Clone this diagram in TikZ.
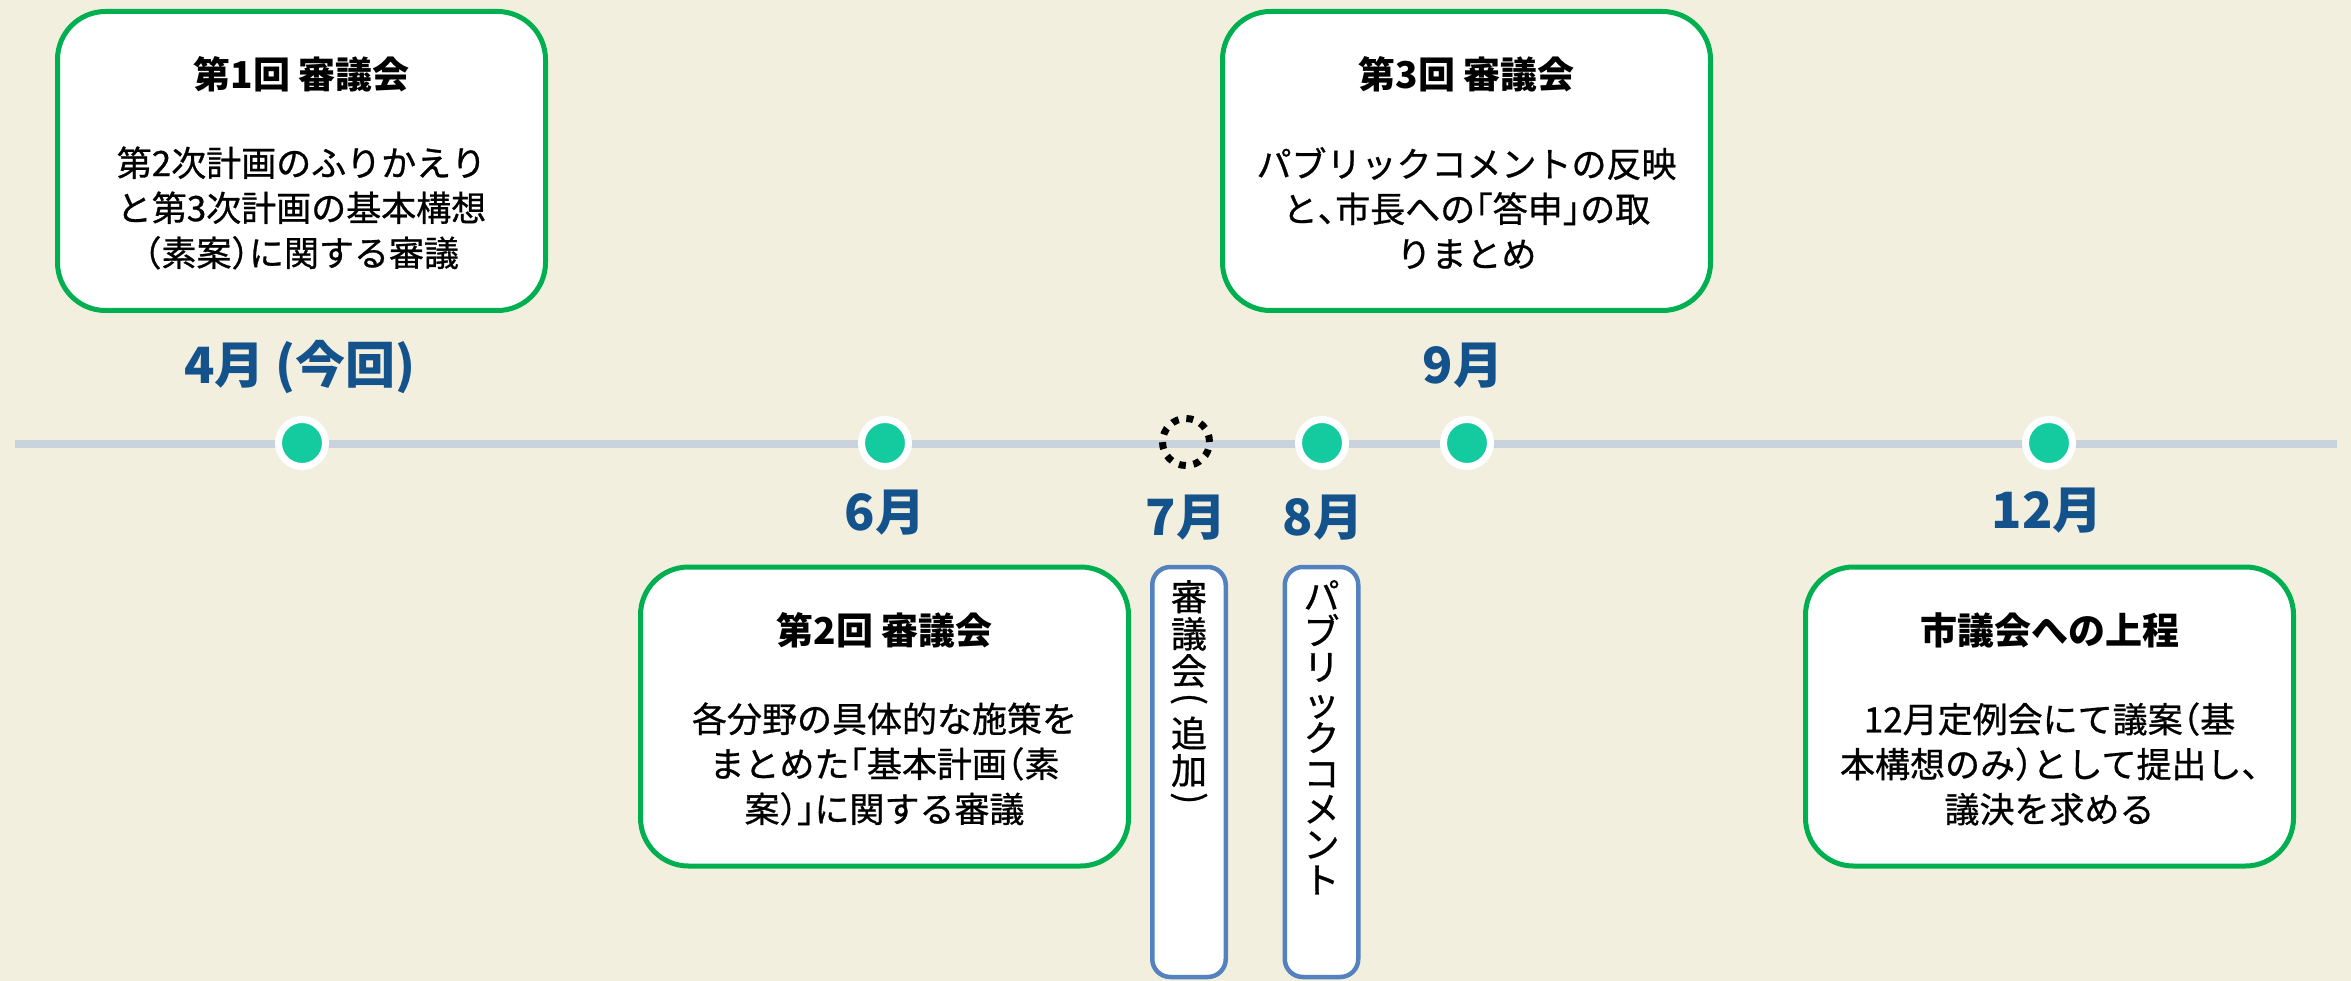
\documentclass[tikz,border=0pt]{standalone}
\usepackage{fontspec}
\usepackage{graphicx}
\setmainfont{Noto Sans CJK JP}
\newfontfamily\bodyfont[FakeBold=0.8]{Noto Sans CJK JP}
\newfontfamily\vfont[FakeBold=0.8]{Noto Sans CJK JP}
\newcommand\hw[1]{{\addfontfeatures{RawFeature=+halt}#1}}
\newcommand\vparen[1]{\rotatebox{-90}{#1}}
\definecolor{bgcol}{RGB}{242,239,223}
\definecolor{boxgreen}{RGB}{0,176,80}
\definecolor{dotgreen}{RGB}{20,203,160}
\definecolor{linecol}{RGB}{201,211,222}
\definecolor{monthblue}{RGB}{20,82,140}
\definecolor{vblue}{RGB}{84,130,190}
\begin{document}
\begin{tikzpicture}[x=1pt,y=-1pt,
  box/.style={draw=boxgreen, line width=5pt, fill=white, rounded corners=48pt,
    minimum width=488pt, minimum height=299pt, inner sep=0pt},
  boxtitle/.style={inner sep=0pt, font=\fontsize{37}{44}\selectfont\bfseries},
  boxbody/.style={inner sep=0pt, align=center, font=\bodyfont\fontsize{35}{45}\selectfont},
  month/.style={inner sep=0pt, text=monthblue, font=\fontsize{50}{60}\selectfont\bfseries},
  dot/.style={circle, draw=white, fill=dotgreen, line width=7pt, minimum size=47pt, inner sep=0pt},
  dashdot/.style={circle, draw=black, line width=7pt, dash pattern=on 7pt off 7.77pt, minimum size=47pt, inner sep=0pt},
  timeline/.style={draw=linecol, line width=8pt},
  vbox/.style={draw=vblue, fill=white, line width=4.5pt, rounded corners=18pt,
    minimum width=73.5pt, minimum height=410pt, inner sep=0pt},
  vtext/.style={inner sep=0pt, align=center, font=\vfont\fontsize{36}{35.5}\selectfont},
  vtextb/.style={inner sep=0pt, align=center, font=\vfont\fontsize{36}{37}\selectfont}
]
\fill[bgcol] (0,0) rectangle (2351,981);
\useasboundingbox (0,0) rectangle (2351,981);

% timeline
\coordinate (tl0) at (15,444);
\coordinate (tl1) at (2337,444);
\draw[timeline] (tl0) -- (tl1);

% dots
\node[dot] (d4) at (302,443) {};
\node[dot] (d6) at (885,443) {};
\node[dashdot] (d7) at (1186,442) {};
\node[dot] (d8) at (1322,443) {};
\node[dot] (d9) at (1467,443) {};
\node[dot] (d12) at (2049,443) {};

% month labels
\node[month] (m4) at (300,367) {4月 (今回)};
\node[month] (m9) at (1463,366) {9月};
\node[month] (m6) at (885,513) {6月};
\node[month] (m7) at (1186,518) {7月};
\node[month] (m8) at (1323,518) {8月};
\node[month] (m12) at (2047,511) {12月};

% boxes
\node[box] (b1) at (301.5,161) {};
\node[boxtitle] (t1) at (301.5,74) {第1回 審議会};
\node[boxbody] (x1) at (301.5,208) {第2次計画のふりかえり\\と第3次計画の基本構想\\\hw{（}素案\hw{）}に関する審議};

\node[box] (b3) at (1466.5,161) {};
\node[boxtitle] (t3) at (1466.5,74) {第3回 審議会};
\node[boxbody] (x3) at (1466.5,208) {パブリックコメントの反映\\と\hw{、}市長への\hw{「}答申\hw{」}の取\\りまとめ};

\node[box] (b2) at (884.5,716.5) {};
\node[boxtitle] (t2) at (884.5,630) {第2回 審議会};
\node[boxbody] (x2) at (884.5,764) {各分野の具体的な施策を\\まとめた\hw{「}基本計画\hw{（}素\\案\hw{）」}に関する審議};

\node[box] (b4) at (2049.5,716.5) {};
\node[boxtitle] (t4) at (2049.5,630) {市議会への上程};
\node[boxbody] (x4) at (2049.5,764) {12月定例会にて議案\hw{（}基\\本構想のみ\hw{）}として提出し\hw{、}\\議決を求める};

% vertical boxes
\node[vbox] (v7) at (1189,772) {};
\node[vtextb, anchor=north] (vt7) at (1189,580) {\lineskiplimit=-1000pt\relax 審\\議\\会\\[-28.7pt]\vparen{(}\\[10.7pt]追\\加\\[-28.7pt]\vparen{)}};
\node[vbox] (v8) at (1321.5,772) {};
\node[vtext, anchor=north] (vt8) at (1321.5,580) {パ\\ブ\\リ\\ッ\\ク\\コ\\メ\\ン\\ト};
\end{tikzpicture}
\end{document}
